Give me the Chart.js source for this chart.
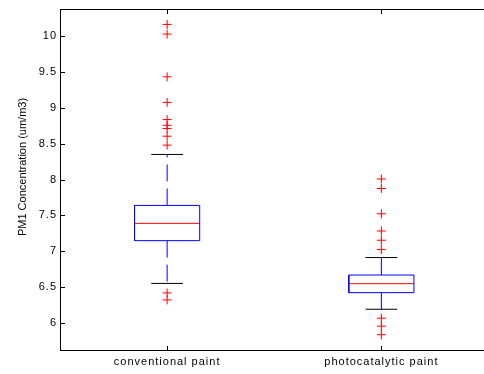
<!DOCTYPE html>
<html><head><meta charset="utf-8">
<script src="https://cdn.jsdelivr.net/npm/chart.js@4/dist/chart.umd.min.js"></script>
<style>html,body{margin:0;padding:0;overflow:hidden;background:#fff;width:484px;height:374px}
#c{display:block}</style></head>
<body><canvas id="c" width="494" height="374"></canvas>
<script>
// ---- data ----
const categories = ['conventional paint', 'photocatalytic paint'];
const q1 = [7.147, 6.421];
const medians = [7.389, 6.546];
const q3 = [7.639, 6.667];
const whiskerLow = [6.550, 6.189];
const whiskerHigh = [8.351, 6.911];
const outliersConventional = [10.167, 10.032, 9.435, 9.078, 8.838, 8.758, 8.713, 8.606, 8.481, 6.417, 6.320];
const outliersPhotocatalytic = [8.008, 7.875, 7.522, 7.282, 7.153, 7.022, 6.064, 5.953, 5.833];
const yTicks = [6, 6.5, 7, 7.5, 8, 8.5, 9, 9.5, 10];
const yTickLabels = ['6', '6.5', '7', '7.5', '8', '8.5', '9', '9.5', '10'];
const yAxisTitle = 'PM1 Concentration (um/m3)';

// ---- styles ----
const outliers = [outliersConventional, outliersPhotocatalytic];
const BOX_HALF = 0.152, CAP_HALF = 0.074;
const BLUE = '#0000ff', RED = '#ff0000', BLACK = '#000000';
const FONT = '"Liberation Sans", Arial, Helvetica, sans-serif';

const datasets = [];
categories.forEach((c, i) => {
  const x = i + 1;
  const line = (pts, color, dash) => ({
    type: 'scatter', showLine: true, data: pts, borderColor: color, borderWidth: 1,
    borderDash: dash || [], pointRadius: 0, pointHoverRadius: 0, tension: 0, fill: false
  });
  datasets.push(line([{x, y: q3[i]}, {x, y: whiskerHigh[i]}], BLUE, [17, 7]));
  datasets.push(line([{x, y: q1[i]}, {x, y: whiskerLow[i]}], BLUE, [17, 7]));
  datasets.push(line([{x: x - CAP_HALF, y: whiskerHigh[i]}, {x: x + CAP_HALF, y: whiskerHigh[i]}], BLACK));
  datasets.push(line([{x: x - CAP_HALF, y: whiskerLow[i]}, {x: x + CAP_HALF, y: whiskerLow[i]}], BLACK));
  datasets.push(line([
    {x: x - BOX_HALF, y: q1[i]}, {x: x + BOX_HALF, y: q1[i]}, {x: x + BOX_HALF, y: q3[i]},
    {x: x - BOX_HALF, y: q3[i]}, {x: x - BOX_HALF, y: q1[i]}], BLUE));
  datasets.push(line([{x: x - BOX_HALF, y: medians[i]}, {x: x + BOX_HALF, y: medians[i]}], RED));
  datasets.push({
    type: 'scatter', data: outliers[i].map(v => ({x, y: v})), showLine: false,
    pointStyle: 'cross', pointRadius: 4.5, pointHoverRadius: 4.5, pointBorderWidth: 1,
    pointBorderColor: RED, pointBackgroundColor: RED, borderColor: RED
  });
});

const frame = {
  id: 'frame',
  beforeDraw(chart) { chart.ctx.letterSpacing = '1px'; },
  afterDraw(chart) {
    const {ctx, chartArea: a, scales: {x, y}} = chart;
    ctx.save();
    ctx.letterSpacing = '0px';
    ctx.strokeStyle = BLACK; ctx.lineWidth = 1;
    ctx.beginPath();
    const top = Math.floor(a.top) + 0.5, bot = Math.floor(a.bottom) + 0.5, left = Math.floor(a.left) + 0.5;
    ctx.moveTo(left, top); ctx.lineTo(a.right, top);
    y.ticks.forEach(t => {
      const p = Math.round(y.getPixelForValue(t.value)) + 0.5;
      ctx.moveTo(left, p); ctx.lineTo(left + 4.5, p);
    });
    x.ticks.forEach(t => {
      const p = Math.round(x.getPixelForValue(t.value)) + 0.5;
      ctx.moveTo(p, bot); ctx.lineTo(p, bot - 4.5);
      ctx.moveTo(p, top); ctx.lineTo(p, top + 4.5);
    });
    ctx.stroke();
    ctx.fillStyle = BLACK;
    ctx.font = '11px ' + FONT;
    ctx.textAlign = 'center'; ctx.textBaseline = 'middle';
    ctx.translate(22.7, 167);
    ctx.rotate(-Math.PI / 2);
    ctx.fillText(yAxisTitle, 0, 0);
    ctx.restore();
  }
};

Chart.defaults.font.family = FONT;
Chart.defaults.font.size = 11;
Chart.defaults.color = BLACK;

new Chart(document.getElementById('c'), {
  type: 'scatter',
  data: {datasets},
  plugins: [frame],
  options: {
    responsive: false, animation: false, devicePixelRatio: 1,
    layout: {padding: {top: 7, left: 0, right: 0, bottom: 0}},
    plugins: {legend: {display: false}, tooltip: {enabled: false}},
    events: [],
    scales: {
      x: {
        type: 'linear', position: 'bottom', min: 0.5, max: 2.5,
        grid: {display: false, drawTicks: false},
        border: {display: true, color: BLACK, width: 1},
        afterBuildTicks: s => { s.ticks = categories.map((c, i) => ({value: i + 1})); },
        afterFit: s => { s.height = 24; },
        ticks: {padding: 5, maxRotation: 0, autoSkip: false, callback: v => categories[v - 1]}
      },
      y: {
        type: 'linear', position: 'left', min: 5.62, max: 10.374,
        grid: {display: false, drawTicks: false},
        border: {display: true, color: BLACK, width: 1},
        afterBuildTicks: s => { s.ticks = yTicks.map(v => ({value: v})); },
        afterFit: s => { s.width = 60; },
        ticks: {padding: 3, includeBounds: false, callback: (v, idx) => yTickLabels[yTicks.indexOf(v)]}
      }
    }
  }
});
</script>
</body></html>
